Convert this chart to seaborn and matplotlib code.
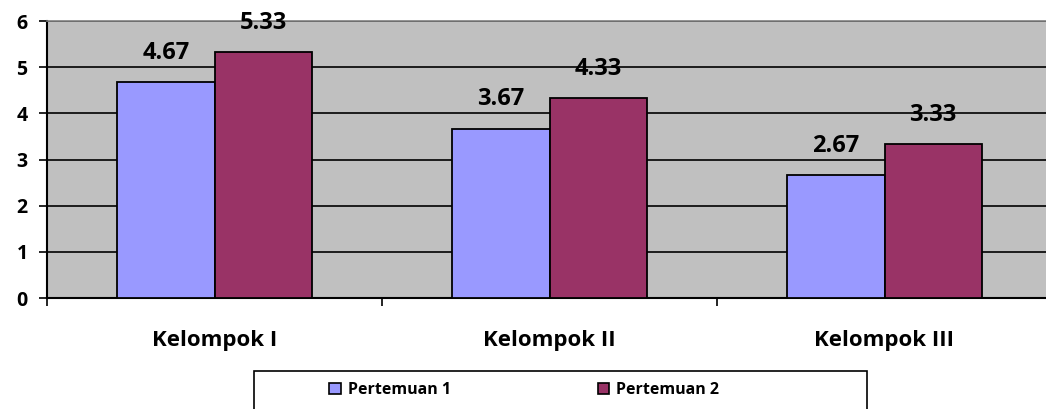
import seaborn as sns
import pandas as pd
import matplotlib.pyplot as plt
from matplotlib.patches import Rectangle

# values
kelompok = ["Kelompok I", "Kelompok II", "Kelompok III"]
pertemuan_1 = [4.67, 3.67, 2.67]
pertemuan_2 = [5.33, 4.33, 3.33]
series_names = ["Pertemuan 1", "Pertemuan 2"]
series_colors = ["#9999FF", "#993366"]

df = pd.DataFrame({
    "kelompok": kelompok * 2,
    "nilai": pertemuan_1 + pertemuan_2,
    "pertemuan": [series_names[0]] * 3 + [series_names[1]] * 3,
})

sns.set_style("white")
plt.rcParams["font.family"] = ["Open Sans", "DejaVu Sans"]
plt.rcParams["font.weight"] = "bold"
plt.rcParams["text.color"] = "black"
plt.rcParams["xtick.labelcolor"] = "black"
plt.rcParams["ytick.labelcolor"] = "black"

W, H = 1046, 409
fig = plt.figure(figsize=(W / 100, H / 100), dpi=100)
ax = fig.add_axes([47 / W, (H - 298) / H, 1005 / W, 277 / H])
ax.set_facecolor("#C0C0C0")

sns.barplot(data=df, x="kelompok", y="nilai", hue="pertemuan",
            palette=series_colors, width=0.58, gap=0, edgecolor="black",
            linewidth=1.3, saturation=1, ax=ax, legend=False, zorder=3)

# data labels
for cont in ax.containers:
    for bar in cont:
        v = bar.get_height()
        ax.annotate(f"{v:.2f}", (bar.get_x() + bar.get_width() / 2, v),
                    xytext=(0, 21), textcoords="offset points",
                    ha="center", va="center", fontsize=17, fontweight="bold",
                    color="black", zorder=5, annotation_clip=False)

ax.set_ylim(0, 6)
ax.set_xlim(-0.5, 2.5)
ax.set_yticks(range(7))
ax.yaxis.grid(True, color="black", linewidth=1.2, zorder=0)
ax.set_axisbelow(True)
ax.set_xlabel("")
ax.set_ylabel("")

ax.tick_params(axis="y", which="major", length=6, width=1.2, color="black",
               left=True, pad=8, labelsize=14, labelcolor="black")
ax.tick_params(axis="x", which="major", length=0, pad=23, labelsize=16,
               labelcolor="black")
ax.set_xticks([-0.5, 0.5, 1.5], minor=True)
ax.tick_params(axis="x", which="minor", length=6, width=1.2, color="black",
               bottom=True)
for lbl in ax.get_xticklabels() + ax.get_yticklabels():
    lbl.set_fontweight("bold")

for s in ["left", "bottom"]:
    ax.spines[s].set_color("black")
    ax.spines[s].set_linewidth(1.5)
ax.spines["top"].set_color("#808080")
ax.spines["top"].set_linewidth(1.2)
ax.spines["right"].set_visible(False)

# legend
handles = [Rectangle((0, 0), 1, 1, facecolor=c, edgecolor="black", linewidth=1.2)
           for c in series_colors]
leg = fig.legend(handles, series_names, loc="center left",
                 bbox_to_anchor=(315 / W, 1 - 390 / H), ncol=2, frameon=False,
                 handlelength=0.7, handleheight=0.7,
                 handletextpad=0.45, columnspacing=9.2,
                 prop={"weight": "bold", "size": 11.5})
for t in leg.get_texts():
    t.set_color("black")
fig.add_artist(Rectangle((254 / W, 1 - 420 / H), 613 / W, 49 / H,
                         transform=fig.transFigure, facecolor="white",
                         edgecolor="black", linewidth=1.2, zorder=0))

fig.savefig("out.png", dpi=100)
